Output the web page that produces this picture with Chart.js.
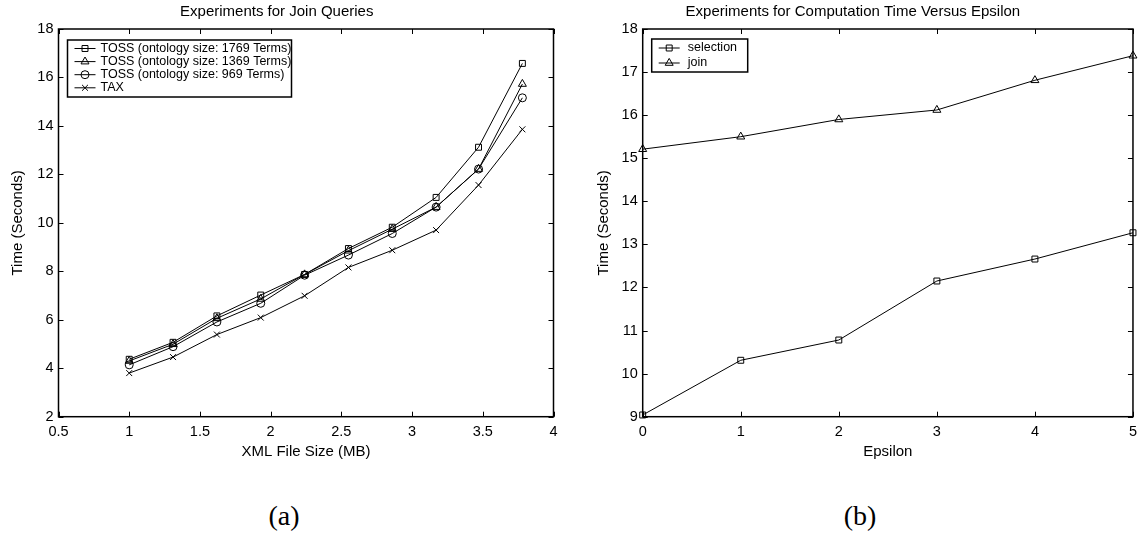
<!DOCTYPE html>
<html>
<head>
<meta charset="utf-8">
<script src="https://cdn.jsdelivr.net/npm/chart.js@4/dist/chart.umd.min.js"></script>
<style>
body { margin: 0; background: #fff; width: 1144px; height: 554px; position: relative; overflow: hidden; }
.box { position: absolute; top: 0; width: 572px; height: 470px; }
.cap { position: absolute; top: 500px; font-family: "Liberation Serif", "DejaVu Serif", serif; font-size: 28px; color: #000; transform: translateX(-50%); }
</style>
</head>
<body>
<div class="box" style="left:0"><canvas id="joinChart" width="572" height="470"></canvas></div>
<div class="box" style="left:572px"><canvas id="epsChart" width="572" height="470"></canvas></div>
<div class="cap" style="left:284px">(a)</div>
<div class="cap" style="left:860px">(b)</div>
<script>
// (a) join queries
const xmlSizes = [1, 1.31, 1.62, 1.93, 2.24, 2.55, 2.86, 3.17, 3.47, 3.78];
const toss1769 = [4.37, 5.07, 6.16, 7.02, 7.87, 8.94, 9.82, 11.05, 13.12, 16.58];
const toss1369 = [4.30, 4.99, 6.06, 6.86, 7.87, 8.85, 9.74, 10.65, 12.22, 15.73];
const toss969 = [4.14, 4.89, 5.91, 6.68, 7.84, 8.67, 9.56, 10.65, 12.22, 15.16];
const tax = [3.80, 4.46, 5.39, 6.09, 6.99, 8.16, 8.87, 9.70, 11.56, 13.86];
const joinLabels = [
  'TOSS (ontology size: 1769 Terms)',
  'TOSS (ontology size: 1369 Terms)',
  'TOSS (ontology size: 969 Terms)',
  'TAX'
];

// (b) epsilon
const epsilon = [0, 1, 2, 3, 4, 5];
const selection = [9.04, 10.31, 10.78, 12.15, 12.66, 13.27];
const join = [15.21, 15.50, 15.90, 16.12, 16.81, 17.38];
const epsLabels = ['selection', 'join'];

const FONT = '"Liberation Sans", Arial, sans-serif';
Chart.defaults.font.family = FONT;
Chart.defaults.color = '#000';
Chart.defaults.animation = false;

function pts(xs, ys) {
  return xs.map((x, i) => ({ x: x, y: ys[i] }));
}

function series(label, xs, ys, style, r) {
  return {
    label: label,
    data: pts(xs, ys),
    borderColor: '#000',
    borderWidth: 1,
    pointStyle: style,
    pointRadius: r,
    pointBorderColor: '#000',
    pointBorderWidth: 1,
    pointBackgroundColor: 'rgba(0,0,0,0)',
    clip: false,
    tension: 0
  };
}

// matlab style box with inward ticks
const boxTicks = {
  id: 'boxTicks',
  afterDatasetsDraw(chart) {
    const ctx = chart.ctx;
    const a = chart.chartArea;
    const xs = chart.scales.x;
    const ys = chart.scales.y;
    ctx.save();
    ctx.strokeStyle = '#000';
    ctx.lineWidth = 1;
    xs.ticks.forEach(t => {
      const px = Math.round(xs.getPixelForValue(t.value)) + 0.5;
      ctx.beginPath();
      ctx.moveTo(px, a.bottom); ctx.lineTo(px, a.bottom - 5);
      ctx.moveTo(px, a.top); ctx.lineTo(px, a.top + 5);
      ctx.stroke();
    });
    ys.ticks.forEach(t => {
      const py = Math.round(ys.getPixelForValue(t.value)) + 0.5;
      ctx.beginPath();
      ctx.moveTo(a.left, py); ctx.lineTo(a.left + 5, py);
      ctx.moveTo(a.right, py); ctx.lineTo(a.right - 5, py);
      ctx.stroke();
    });
    ctx.lineWidth = 1.5;
    ctx.strokeRect(a.left, a.top, a.right - a.left, a.bottom - a.top);
    ctx.restore();
  }
};

// legend box inside the axes
const innerLegend = {
  id: 'innerLegend',
  afterDraw(chart, args, opts) {
    const ctx = chart.ctx;
    const a = chart.chartArea;
    const x0 = a.left + opts.dx;
    const y0 = a.top + opts.dy;
    ctx.save();
    ctx.fillStyle = '#fff';
    ctx.fillRect(x0, y0, opts.w, opts.h);
    ctx.strokeStyle = '#000';
    ctx.lineWidth = 1.5;
    ctx.strokeRect(x0, y0, opts.w, opts.h);
    ctx.font = '12.5px ' + FONT;
    ctx.textBaseline = 'middle';
    chart.data.datasets.forEach((ds, i) => {
      const y = y0 + opts.first + i * opts.step;
      ctx.lineWidth = 1;
      ctx.strokeStyle = '#000';
      ctx.beginPath();
      ctx.moveTo(x0 + 7, y); ctx.lineTo(x0 + 28, y);
      ctx.stroke();
      ctx.fillStyle = 'rgba(0,0,0,0)';
      Chart.helpers.drawPoint(ctx, {
        pointStyle: ds.pointStyle,
        radius: ds.pointRadius,
        borderWidth: 1,
        rotation: 0
      }, x0 + 17.5, y);
      ctx.fillStyle = '#000';
      ctx.fillText(ds.label, x0 + opts.textX, y);
    });
    ctx.restore();
  }
};

function axis(min, max, step, title, fit, titlePad, vertical) {
  return {
    type: 'linear',
    min: min,
    max: max,
    grid: { display: false, drawTicks: false },
    border: { display: false },
    ticks: {
      stepSize: step,
      padding: vertical ? 5 : 7,
      font: { size: 14.5 },
      maxRotation: 0,
      autoSkip: false,
      callback: v => String(Number(v.toFixed(2)))
    },
    title: {
      display: true,
      text: title,
      font: { size: 15 },
      padding: vertical ? { top: titlePad } : { bottom: titlePad }
    },
    afterFit(scale) {
      if (vertical) scale.width = fit; else scale.height = fit;
    }
  };
}

function buildJoinChart() {
  new Chart(document.getElementById('joinChart'), {
    type: 'line',
    data: {
      datasets: [
        series(joinLabels[0], xmlSizes, toss1769, 'rect', 4.2),
        series(joinLabels[1], xmlSizes, toss1369, 'triangle', 4.6),
        series(joinLabels[2], xmlSizes, toss969, 'circle', 4),
        series(joinLabels[3], xmlSizes, tax, 'crossRot', 4.2)
      ]
    },
    options: {
      responsive: false,
      layout: { padding: { left: 0, right: 18.5, top: 0, bottom: 0 } },
      scales: {
        x: axis(0.5, 4, 0.5, 'XML File Size (MB)', 53.3, 9.3, false),
        y: axis(2, 18, 2, 'Time (Seconds)', 58.5, 9.3, true)
      },
      plugins: {
        legend: { display: false },
        tooltip: { enabled: false },
        title: {
          display: true,
          text: 'Experiments for Join Queries',
          font: { size: 15, weight: 'normal' },
          padding: { top: 3, bottom: 8 }
        },
        innerLegend: { dx: 9, dy: 11, w: 224, h: 57, first: 8.5, step: 13.1, textX: 33 }
      }
    },
    plugins: [boxTicks, innerLegend]
  });
}

function buildEpsChart() {
  new Chart(document.getElementById('epsChart'), {
    type: 'line',
    data: {
      datasets: [
        series(epsLabels[0], epsilon, selection, 'rect', 4.2),
        series(epsLabels[1], epsilon, join, 'triangle', 4.6)
      ]
    },
    options: {
      responsive: false,
      layout: { padding: { left: 0, right: 10.3, top: 0, bottom: 0 } },
      scales: {
        x: axis(0, 5, 1, 'Epsilon', 53.3, 9.3, false),
        y: axis(9, 18, 1, 'Time (Seconds)', 70.7, 23, true)
      },
      plugins: {
        legend: { display: false },
        tooltip: { enabled: false },
        title: {
          display: true,
          text: 'Experiments for Computation Time Versus Epsilon',
          font: { size: 15, weight: 'normal' },
          padding: { top: 3, bottom: 8 }
        },
        innerLegend: { dx: 9, dy: 10, w: 96, h: 33, first: 9, step: 15, textX: 36 }
      }
    },
    plugins: [boxTicks, innerLegend]
  });
}

buildJoinChart();
buildEpsChart();
</script>
</body>
</html>
